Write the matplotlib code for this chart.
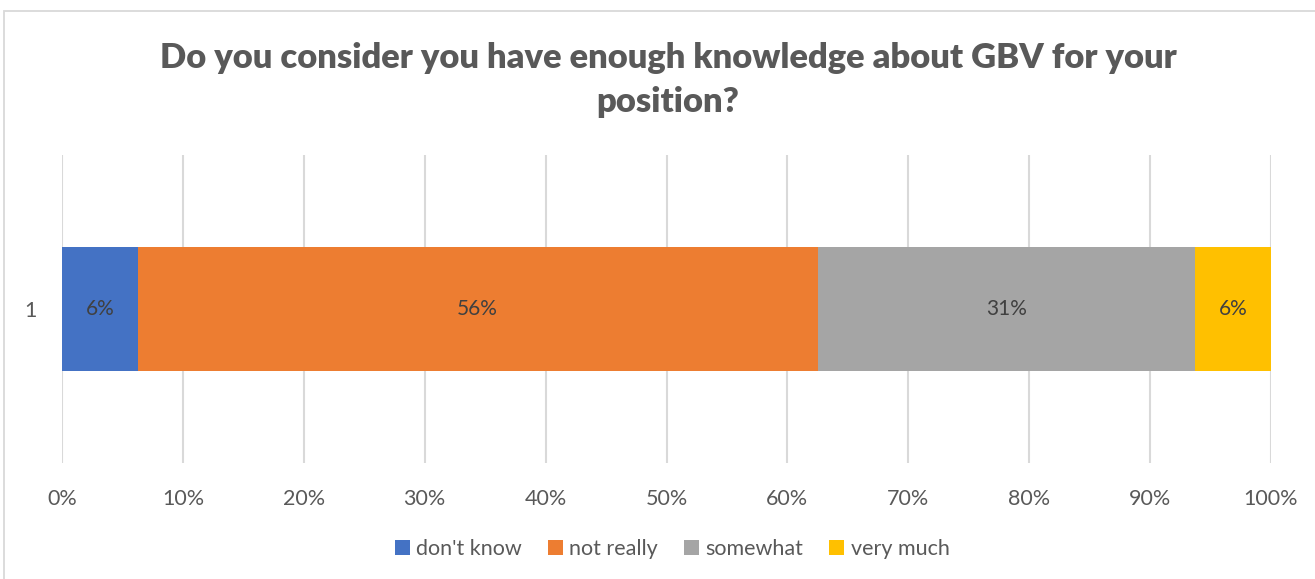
import matplotlib
matplotlib.use("Agg")
import matplotlib.pyplot as plt
from matplotlib.patches import Rectangle

# survey answers, share of respondents in percent
categories = ["don't know", "not really", "somewhat", "very much"]
shares = [6.25, 56.25, 31.25, 6.25]
colors = ["#4472c4", "#ed7d31", "#a5a5a5", "#ffc000"]
row_labels = ["1"]
xticks = [0, 10, 20, 30, 40, 50, 60, 70, 80, 90, 100]

plt.rcParams['font.family'] = ['Lato', 'DejaVu Sans']

fig = plt.figure(figsize=(13.15, 5.79), dpi=100)

# light chart-area frame running off the right and bottom
fig.patches.append(Rectangle((4 / 1315, -0.1), 1.2, (579 - 11) / 579 + 0.1,
                             transform=fig.transFigure, fill=False,
                             edgecolor="#d9d9d9", linewidth=1.3))

ax = fig.add_axes([62 / 1315, 116 / 579, 1209 / 1315, 308 / 579])

left = 0
for name, val, col in zip(categories, shares, colors):
    ax.barh(0, val, height=0.4, left=left, color=col, label=name, zorder=3)
    ax.text(left + val / 2, 0, "%.0f%%" % val, ha="center", va="center",
            fontsize=15, color="#404040", zorder=4)
    left += val

ax.set_xlim(0, 100)
ax.set_ylim(-0.5, 0.5)
ax.set_xticks(xticks)
ax.set_xticklabels(["%d%%" % t for t in xticks], fontsize=15.5, color="#595959")
ax.set_yticks([0])
ax.set_yticklabels(row_labels, fontsize=15.5, color="#595959")
ax.tick_params(axis="both", length=0)
ax.tick_params(axis="x", pad=19)
ax.tick_params(axis="y", pad=18)
ax.grid(axis="x", color="#d9d9d9", linewidth=1.5, zorder=0)
for s in ax.spines.values():
    s.set_visible(False)

fig.text(0.508, 1 - 80 / 579,
         "Do you consider you have enough knowledge about GBV for your\nposition?",
         ha="center", va="center", fontsize=24.8, fontweight="heavy",
         color="#595959", linespacing=1.45)

fig.legend(loc="center", bbox_to_anchor=(672 / 1315, 1 - 549 / 579), ncol=4,
           frameon=False, fontsize=15.5, handlelength=0.7, handleheight=0.7,
           handletextpad=0.3, columnspacing=1.2, labelcolor="#595959")

fig.savefig("out.png", dpi=100)
